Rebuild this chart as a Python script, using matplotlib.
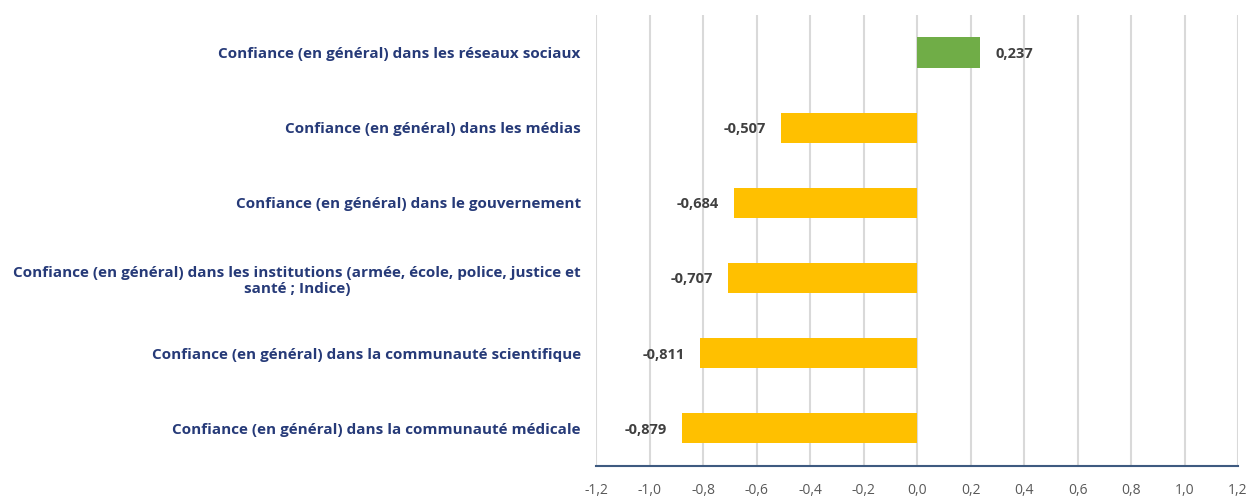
import matplotlib.pyplot as plt
from matplotlib.ticker import FuncFormatter

plt.rcParams['font.family'] = ['Open Sans', 'DejaVu Sans']

categories = [
    "Confiance (en général) dans les réseaux sociaux",
    "Confiance (en général) dans les médias",
    "Confiance (en général) dans le gouvernement",
    "Confiance (en général) dans les institutions (armée, école, police, justice et\nsanté ; Indice)",
    "Confiance (en général) dans la communauté scientifique",
    "Confiance (en général) dans la communauté médicale",
]
values = [0.237, -0.507, -0.684, -0.707, -0.811, -0.879]
ticks = [-1.2, -1.0, -0.8, -0.6, -0.4, -0.2, 0.0, 0.2, 0.4, 0.6, 0.8, 1.0, 1.2]

fig = plt.figure(figsize=(12.48, 4.96), dpi=100)
ax = fig.add_axes([0.4776, 0.0605, 0.5144, 0.9095])

pos = list(range(len(categories)))
colors = ['#70ad47' if v > 0 else '#ffc000' for v in values]
ax.barh(pos, values, height=0.4, color=colors, zorder=3)

for y, v in zip(pos, values):
    txt = f"{v:.3f}".replace('.', ',')
    if v >= 0:
        ax.annotate(txt, (v, y), xytext=(11, -1), textcoords='offset points',
                    ha='left', va='center', fontsize=10.5, fontweight='bold', color='#404040')
    else:
        ax.annotate(txt, (v, y), xytext=(-11, -1), textcoords='offset points',
                    ha='right', va='center', fontsize=10.5, fontweight='bold', color='#404040')

ax.set_xlim(-1.2, 1.2)
ax.set_ylim(5.5, -0.5)
ax.set_xticks(ticks)
ax.xaxis.set_major_formatter(FuncFormatter(lambda x, p: f"{x:.1f}".replace('.', ',').replace('-0,0', '0,0')))
ax.set_yticks(pos)
ax.set_yticklabels(categories)
for lab in ax.get_yticklabels():
    lab.set_multialignment('center')
    lab.set_fontweight('bold')
    lab.set_color('#263a78')
    lab.set_fontsize(11)

ax.tick_params(axis='y', length=0, pad=11)
ax.tick_params(axis='x', length=0, pad=12, labelsize=10, labelcolor='#595959')
ax.grid(axis='x', color='#d9d9d9', linewidth=1.5, zorder=0)
for s in ['top', 'right', 'left']:
    ax.spines[s].set_visible(False)
ax.spines['bottom'].set_color('#3e5a80')
ax.spines['bottom'].set_linewidth(1.5)
ax.spines['bottom'].set_zorder(4)

fig.savefig('out.png', dpi=100)
